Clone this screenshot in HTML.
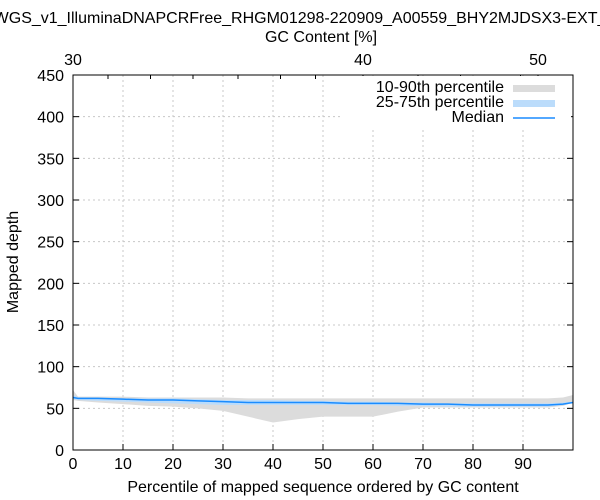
<!DOCTYPE html>
<html><head><meta charset="utf-8"><style>
body{margin:0;background:#fff;}
svg{display:block;font-family:"Liberation Sans",sans-serif;}
</style></head><body>
<svg id="chart" width="600" height="500">
<text x="300" y="23" text-anchor="middle" font-size="16">WGS_v1_IlluminaDNAPCRFree_RHGM01298-220909_A00559_BHY2MJDSX3-EXT_</text>
<text x="321" y="42" text-anchor="middle" font-size="16">GC Content [%]</text>
<text x="323" y="492" text-anchor="middle" font-size="16">Percentile of mapped sequence ordered by GC content</text>
<text transform="translate(18,262) rotate(-90)" text-anchor="middle" font-size="16">Mapped depth</text>
<g id="grid"></g><g id="bands"></g><g id="axes"></g>
<g>
<rect x="343" y="76" width="228" height="52" fill="#fff"/>
<text x="504" y="92" text-anchor="end" font-size="16">10-90th percentile</text>
<rect x="513" y="85" width="42" height="7" fill="#dcdcdc"/>
<text x="504" y="107" text-anchor="end" font-size="16">25-75th percentile</text>
<rect x="513" y="100" width="42" height="7" fill="#bbdcfb"/>
<text x="504" y="122" text-anchor="end" font-size="16">Median</text>
<line x1="513" y1="118" x2="555" y2="118" stroke="#1a8cff" stroke-width="1.5"/>
</g>
</svg>
<script>
const pct=[0,1,5,10,15,20,25,30,35,40,45,50,55,60,65,70,75,80,85,90,95,98,100];
const p10=[60,59,57,55,53,52,50,47,40,33,37,40,40,40,46,51,51,51,51,51,51,53,57];
const p25=[61,60,59,58,57,56,55,54,54,54,54,54,54,54,53,53,52,52,52,52,52,54,57];
const p50=[63,62,62,61,60,60,59,58,57,57,57,57,56,56,56,55,55,54,54,54,54,55,57];
const p75=[66,63,63,62,62,62,61,60,60,60,59,59,58,58,57,57,56,56,56,56,56,57,58];
const p90=[72,64,64,64,63,63,63,63,62,62,62,62,62,62,62,62,62,62,62,62,62,63,66];
const yTicks=[0,50,100,150,200,250,300,350,400,450];
const xTicks=[0,10,20,30,40,50,60,70,80,90];
const gcLabels=[30,40,50];
const gcLabelPct=[0,58,93];
const gcMinorPct=[7,15.5,24,33,41.5,48.5,69,77.5,89.5];
const X=v=>73+v*5, Y=v=>450-v*375/450;
const NS="http://www.w3.org/2000/svg";
function mk(t,a,p){const e=document.createElementNS(NS,t);for(const k in a)e.setAttribute(k,a[k]);p.appendChild(e);return e;}
const grid=document.getElementById('grid'),bands=document.getElementById('bands'),axes=document.getElementById('axes');
yTicks.forEach(v=>{
 if(v>0&&v<450){const l=mk('line',{x1:73,x2:573,y1:Y(v),y2:Y(v),stroke:'#c8c8c8','stroke-dasharray':'2,3'},grid);
 
 }
 mk('line',{x1:73,x2:79,y1:Y(v),y2:Y(v),stroke:'#000'},axes);
 mk('line',{x1:567,x2:573,y1:Y(v),y2:Y(v),stroke:'#000'},axes);
 const t=mk('text',{x:64,y:Y(v)+6,'text-anchor':'end','font-size':16},axes);t.textContent=v;
 
 
});
xTicks.forEach(v=>{
 if(v>0){const l=mk('line',{x1:X(v),x2:X(v),y1:75,y2:450,stroke:'#c8c8c8','stroke-dasharray':'2,3'},grid);
 
 }
 mk('line',{x1:X(v),x2:X(v),y1:444,y2:450,stroke:'#000'},axes);
 const t=mk('text',{x:X(v),y:469,'text-anchor':'middle','font-size':16},axes);t.textContent=v;
 
 
});
gcMinorPct.forEach(v=>mk('line',{x1:X(v),x2:X(v),y1:75,y2:79,stroke:'#000'},axes));
gcLabels.forEach((v,i)=>{
 mk('line',{x1:X(gcLabelPct[i]),x2:X(gcLabelPct[i]),y1:75,y2:83,stroke:'#000'},axes);
 const t=mk('text',{x:X(gcLabelPct[i]),y:65,'text-anchor':'middle','font-size':16},axes);t.textContent=v;
 
 
});
function band(lo,hi,fill,name){
 let d='M'+pct.map((p,i)=>X(p)+','+Y(hi[i])).join('L');
 for(let i=pct.length-1;i>=0;i--)d+='L'+X(pct[i])+','+Y(lo[i]);
 const e=mk('path',{d:d+'Z',fill:fill},bands);
 
 
}
band(p10,p90,'#dcdcdc','band-10-90');
band(p25,p75,'#bbdcfb','band-25-75');
const m=mk('path',{d:'M'+pct.map((p,i)=>X(p)+','+Y(p50[i])).join('L'),fill:'none',stroke:'#1a8cff','stroke-width':1.5},bands);


const f=mk('rect',{x:73,y:75,width:500,height:375,fill:'none',stroke:'#000'},axes);


</script>
</body></html>
